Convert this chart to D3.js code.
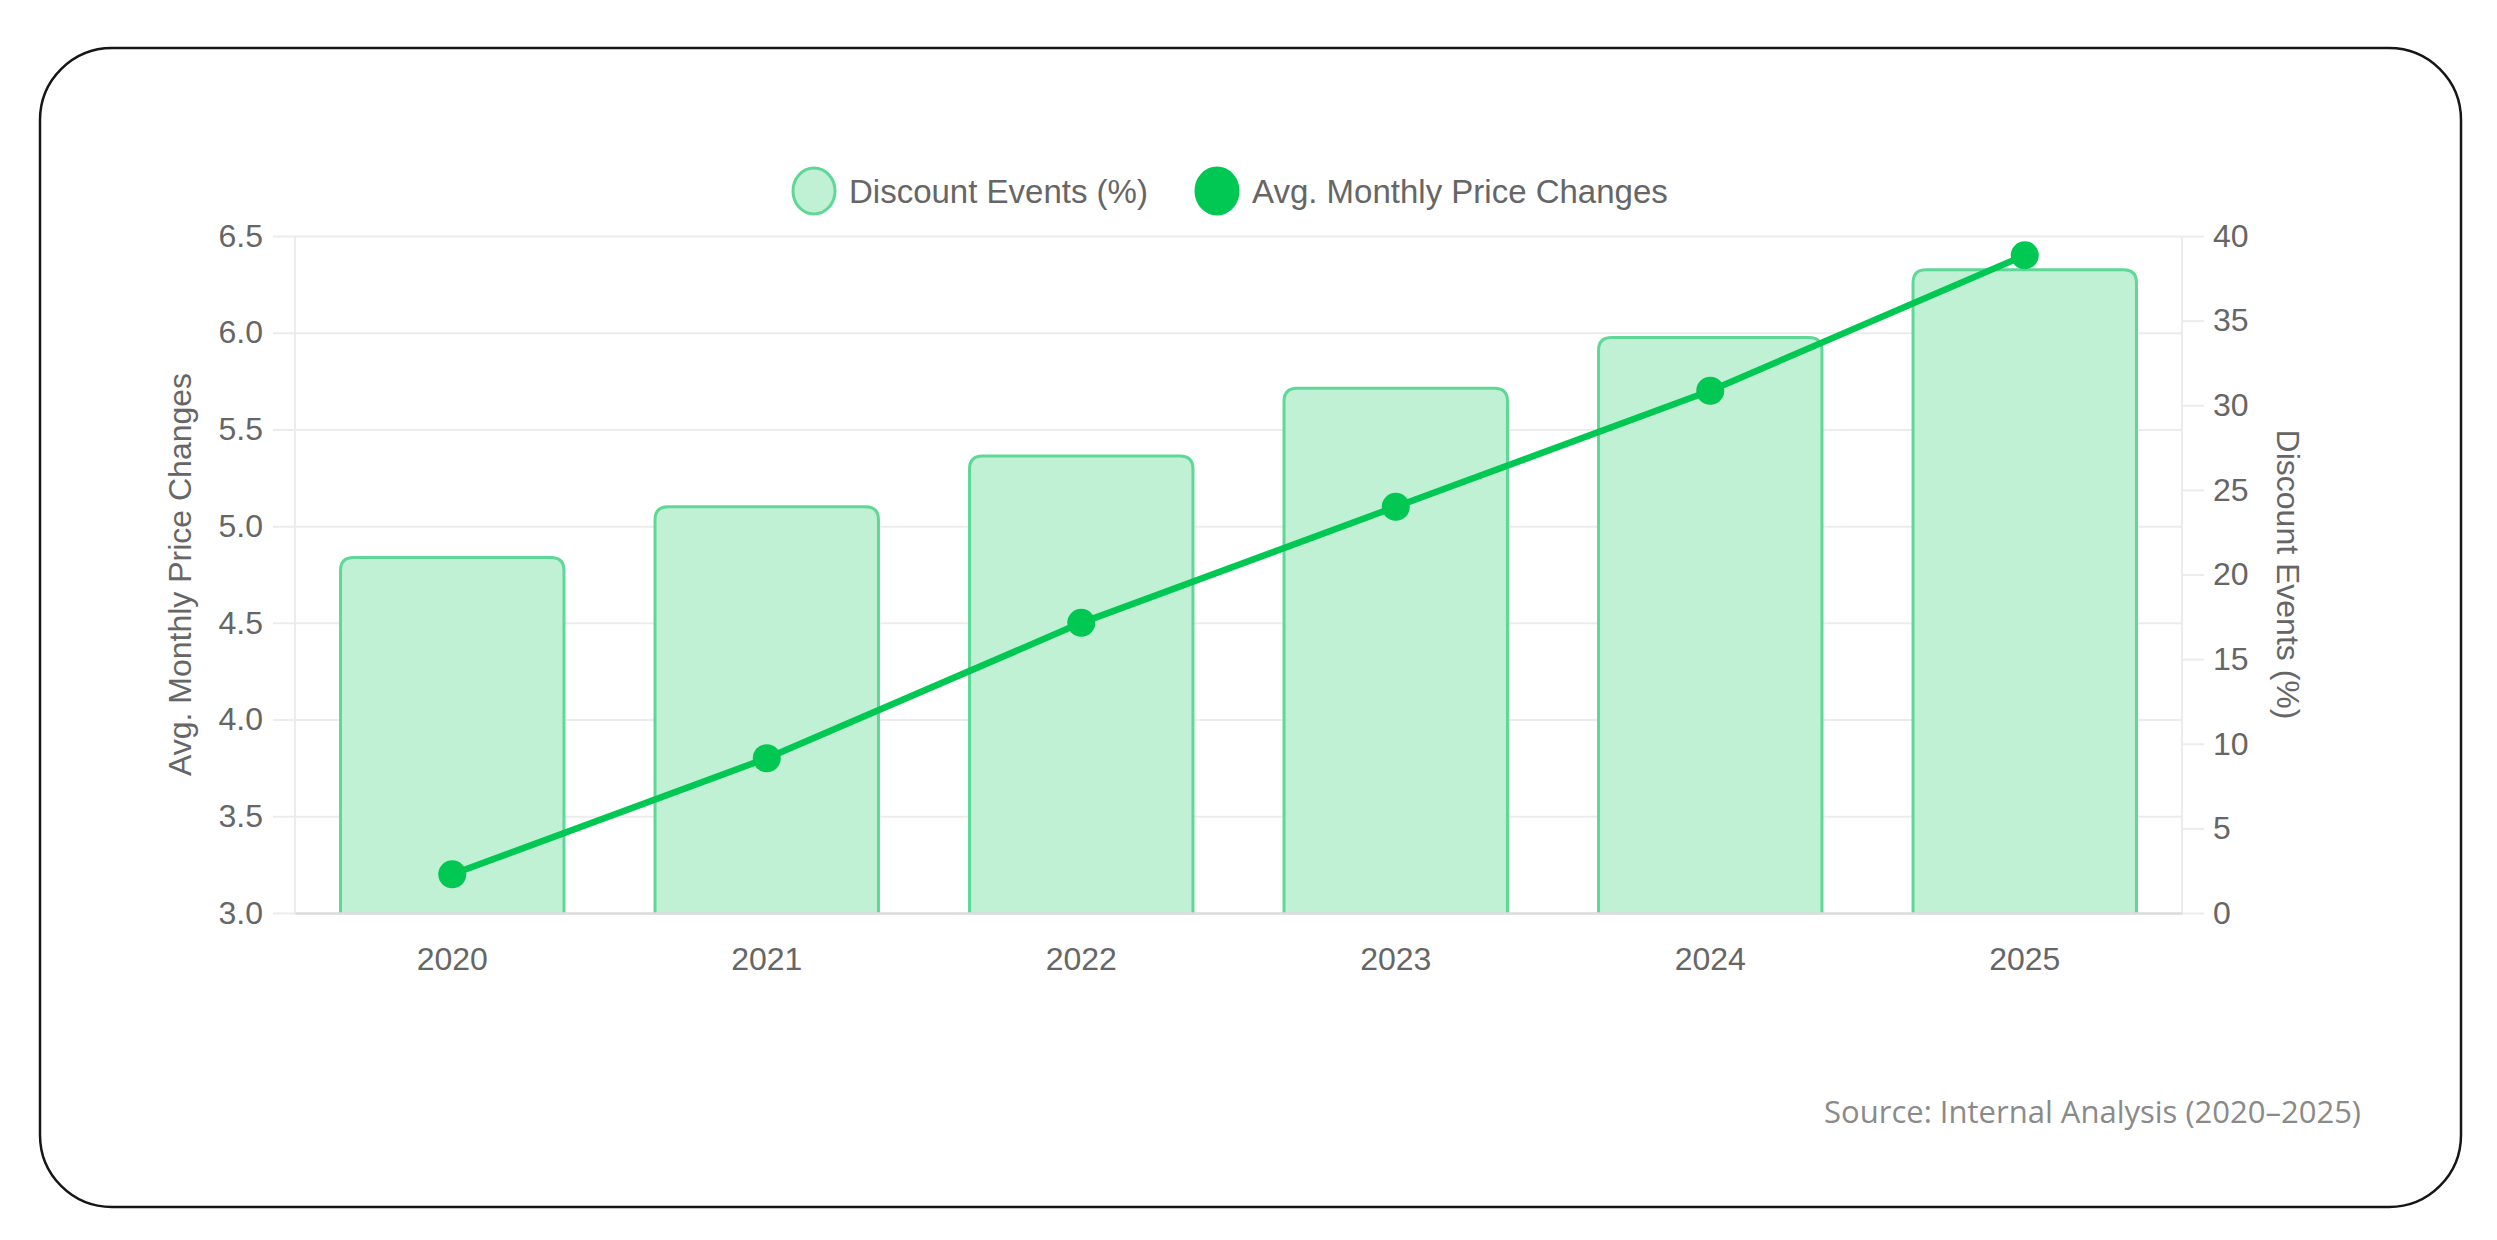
<!DOCTYPE html>
<html>
<head>
<meta charset="utf-8">
<script src="https://cdn.jsdelivr.net/npm/d3@7"></script>
<style>
  body { margin: 0; background: #fff; }
  svg text { font-family: "Liberation Sans", Arial, Helvetica, sans-serif; }
</style>
</head>
<body>
<div id="canvas"></div>
<script>
// chart values
const years = ['2020', '2021', '2022', '2023', '2024', '2025'];
const discountEvents = [21, 24, 27, 31, 34, 38];          // % (right axis)
const avgPriceChanges = [3.2, 3.8, 4.5, 5.1, 5.7, 6.4];    // left axis
const seriesNames = ['Discount Events (%)', 'Avg. Monthly Price Changes'];
const leftTitle = 'Avg. Monthly Price Changes';
const rightTitle = 'Discount Events (%)';
const sourceNote = 'Source: Internal Analysis (2020\u20132025)';

const W = 2497, H = 1240;
const plot = { left: 295, right: 2182, top: 236, bottom: 913 };
const plotW = plot.right - plot.left;
const plotH = plot.bottom - plot.top;

const barFill = '#c0f1d4';
const barStroke = '#5fd897';
const lineColor = '#00c853';
const textColor = '#666';
const gridColor = '#ececec';
const axisColor = '#dcdcdc';

const svg = d3.select('#canvas')
    .append('svg')
    .attr('width', W)
    .attr('height', H);

// card
svg.append('rect')
    .attr('x', 40).attr('y', 48)
    .attr('width', 2421).attr('height', 1159)
    .attr('rx', 72).attr('ry', 72)
    .attr('fill', '#fff')
    .attr('stroke', '#161616')
    .attr('stroke-width', 2.5);

const g = svg.append('g')
    .attr('transform', `translate(${plot.left}, ${plot.top})`);

const xScale = d3.scaleBand()
    .domain(years)
    .range([0, plotW])
    .paddingInner(0.28)
    .paddingOuter(0.14);

const yLeft = d3.scaleLinear().domain([3, 6.5]).range([plotH, 0]);
const yRight = d3.scaleLinear().domain([0, 40]).range([plotH, 0]);

// left axis + grid
const leftAxis = d3.axisLeft(yLeft)
    .ticks(7)
    .tickFormat(d3.format('.1f'))
    .tickSizeOuter(0);

const la = g.append('g').call(leftAxis);
la.select('.domain').remove();
la.selectAll('.tick line')
    .attr('x1', -22)
    .attr('x2', plotW)
    .attr('stroke', gridColor)
    .attr('stroke-width', 2);
la.selectAll('.tick text')
    .attr('x', -32)
    .attr('fill', textColor)
    .attr('font-size', 32);

// right axis
const rightAxis = d3.axisRight(yRight)
    .ticks(8)
    .tickSize(22)
    .tickPadding(9)
    .tickSizeOuter(0);

const ra = g.append('g')
    .attr('transform', `translate(${plotW}, 0)`)
    .call(rightAxis);
ra.select('.domain').remove();
ra.selectAll('.tick line').attr('stroke', gridColor).attr('stroke-width', 2);
ra.selectAll('.tick text').attr('fill', textColor).attr('font-size', 32);

// axis border lines
g.append('line')
    .attr('x1', 0).attr('x2', 0).attr('y1', 0).attr('y2', plotH)
    .attr('stroke', gridColor).attr('stroke-width', 2);
g.append('line')
    .attr('x1', plotW).attr('x2', plotW).attr('y1', 0).attr('y2', plotH)
    .attr('stroke', gridColor).attr('stroke-width', 2);

// bars (rounded top, no stroke on base)
const r = 13;
const barPath = (x, y, w, h) => {
  const rr = Math.min(r, h / 2, w / 2);
  return `M${x},${y + h} L${x},${y + rr} Q${x},${y} ${x + rr},${y} ` +
         `L${x + w - rr},${y} Q${x + w},${y} ${x + w},${y + rr} L${x + w},${y + h}`;
};

g.selectAll('path.bar')
    .data(years.map((d, i) => ({ year: d, value: discountEvents[i] })))
    .enter()
    .append('path')
    .attr('class', 'bar')
    .attr('d', d => barPath(xScale(d.year) + 1.5, yRight(d.value),
                            xScale.bandwidth() - 3, plotH - yRight(d.value)))
    .attr('fill', barFill)
    .attr('stroke', barStroke)
    .attr('stroke-width', 3);

// x axis
const xAxis = d3.axisBottom(xScale).tickSize(0).tickPadding(34);
const xa = g.append('g')
    .attr('transform', `translate(0, ${plotH})`)
    .call(xAxis);
xa.select('.domain')
    .attr('stroke', axisColor)
    .attr('stroke-width', 2.5);
xa.selectAll('.tick text').attr('fill', textColor).attr('font-size', 32);

// line
const lineData = years.map((d, i) => ({ year: d, value: avgPriceChanges[i] }));
const line = d3.line()
    .x(d => xScale(d.year) + xScale.bandwidth() / 2)
    .y(d => yLeft(d.value));

g.append('path')
    .datum(lineData)
    .attr('d', line)
    .attr('fill', 'none')
    .attr('stroke', lineColor)
    .attr('stroke-width', 6.5)
    .attr('stroke-linejoin', 'round');

g.selectAll('circle.pt')
    .data(lineData)
    .enter()
    .append('circle')
    .attr('class', 'pt')
    .attr('cx', d => xScale(d.year) + xScale.bandwidth() / 2)
    .attr('cy', d => yLeft(d.value))
    .attr('r', 14)
    .attr('fill', lineColor);

// axis titles
svg.append('text')
    .text(leftTitle)
    .attr('transform', `translate(180, ${plot.top + plotH / 2}) rotate(-90)`)
    .attr('text-anchor', 'middle')
    .attr('dy', '0.35em')
    .attr('fill', textColor)
    .attr('font-size', 32);

svg.append('text')
    .text(rightTitle)
    .attr('transform', `translate(2288, ${plot.top + plotH / 2}) rotate(90)`)
    .attr('text-anchor', 'middle')
    .attr('dy', '0.35em')
    .attr('fill', textColor)
    .attr('font-size', 32);

// legend
const legend = svg.append('g').attr('transform', 'translate(0, 191)');
const legendItems = [
  { name: seriesNames[0], x: 814, fill: barFill, stroke: barStroke },
  { name: seriesNames[1], x: 1217, fill: lineColor, stroke: lineColor }
];
legendItems.forEach(d => {
  legend.append('ellipse')
      .attr('cx', d.x).attr('cy', 0)
      .attr('rx', 21).attr('ry', 23)
      .attr('fill', d.fill)
      .attr('stroke', d.stroke)
      .attr('stroke-width', 3);
  legend.append('text')
      .text(d.name)
      .attr('x', d.x + 35)
      .attr('dy', '0.35em')
      .attr('fill', textColor)
      .attr('font-size', 33);
});

// source note
svg.append('text')
    .text(sourceNote)
    .attr('x', 2361)
    .attr('y', 1123)
    .attr('text-anchor', 'end')
    .attr('fill', '#8a8a8a')
    .attr('font-size', 31)
    .style('font-family', '"Open Sans", "Noto Sans", sans-serif');
</script>
</body>
</html>
